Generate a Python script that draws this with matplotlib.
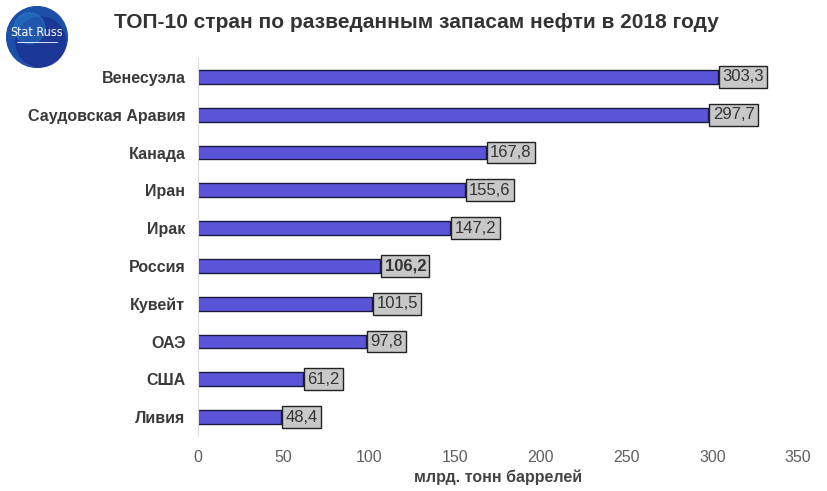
import matplotlib
matplotlib.use("Agg")
import matplotlib.pyplot as plt
from matplotlib.patches import Circle

countries = ["Венесуэла", "Саудовская Аравия", "Канада", "Иран", "Ирак",
             "Россия", "Кувейт", "ОАЭ", "США", "Ливия"]
values = [303.3, 297.7, 167.8, 155.6, 147.2, 106.2, 101.5, 97.8, 61.2, 48.4]
labels = ["303,3", "297,7", "167,8", "155,6", "147,2", "106,2", "101,5", "97,8", "61,2", "48,4"]
xticks = [0, 50, 100, 150, 200, 250, 300, 350]

plt.rcParams['font.family'] = ['Liberation Sans', 'DejaVu Sans']

W, H = 828, 491
fig = plt.figure(figsize=(W / 100, H / 100), dpi=100)
ax = fig.add_axes([198 / W, 1 - 436 / H, 600 / W, 378 / H])

y = list(range(len(countries)))
ax.barh(y, values, height=0.37, color="#5a55d8", edgecolor="#1a1a40", linewidth=1.0)
ax.set_ylim(len(countries) - 0.5, -0.5)
ax.set_xlim(0, 350)
ax.set_yticks(y)
ax.set_yticklabels(countries, fontsize=11.5, fontweight="bold", color="#3a3a3a")
ax.set_xticks(xticks)
ax.set_xticklabels([str(t) for t in xticks], fontsize=11.5, color="#606060")
ax.tick_params(axis="y", length=0, pad=9)
ax.tick_params(axis="x", length=0, pad=10)
for s in ["top", "right", "bottom"]:
    ax.spines[s].set_visible(False)
ax.spines["left"].set_color("#dddddd")
ax.set_xlabel("млрд. тонн баррелей", fontsize=11.5, fontweight="bold", color="#444444", labelpad=3)

for i, (v, lab) in enumerate(zip(values, labels)):
    ax.text(v + 2.6, i, lab, va="center", ha="left", fontsize=12, color="#333333",
            fontweight="bold" if countries[i] == "Россия" else "normal",
            bbox=dict(boxstyle="square,pad=0.2", facecolor="#c8c8c8", edgecolor="#222222", linewidth=1.0))

fig.text(416 / W, 1 - 22 / H, "ТОП-10 стран по разведанным запасам нефти в 2018 году",
         ha="center", va="center", fontsize=15, fontweight="bold", color="#333333")

# logo
logo_ax = fig.add_axes([6 / W, 1 - 68 / H, 62 / W, 62 / H])
logo_ax.set_xlim(0, 1)
logo_ax.set_ylim(0, 1)
logo_ax.set_aspect("equal")
logo_ax.axis("off")
logo_ax.add_patch(Circle((0.5, 0.5), 0.49, color="#1c4fa8"))
logo_ax.add_patch(Circle((0.56, 0.42), 0.40, color="#1b2a8a", alpha=0.6))
logo_ax.add_patch(Circle((0.38, 0.64), 0.25, color="#2a8ad0", alpha=0.4))
logo_ax.text(0.5, 0.58, "Stat.Russ", ha="center", va="center", color="white", fontsize=9,
             family="DejaVu Sans", fontstretch="condensed")
logo_ax.plot([0.18, 0.82], [0.42, 0.42], color="white", lw=0.6)

fig.savefig("out.png", dpi=100, facecolor="white")
